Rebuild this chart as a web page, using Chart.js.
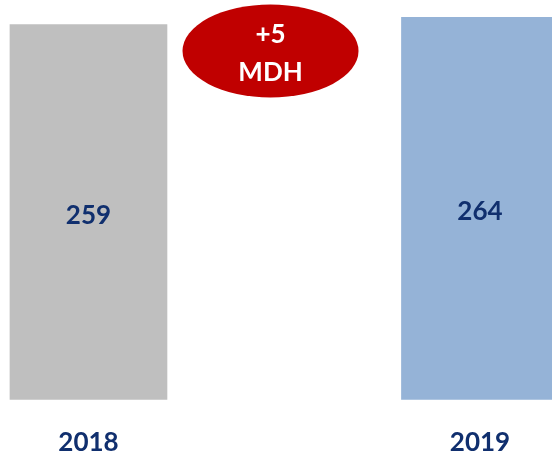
<!DOCTYPE html>
<html>
<head>
<meta charset="utf-8">
<script src="https://cdn.jsdelivr.net/npm/chart.js@4/dist/chart.umd.min.js"></script>
<style>
  html, body { margin: 0; padding: 0; background: #fff; }
  #wrap { width: 552px; height: 457px; position: relative; }
</style>
</head>
<body>
<div id="wrap"><canvas id="myChart"></canvas></div>
<script>
var categories = ['2018', '2019'];
var values = [259, 264];
var barColors = ['#BFBFBF', '#95B3D7'];
var badgeLines = ['+5', 'MDH'];

var navy = '#102F6E';
var fontFamily = 'Lato, "Liberation Sans", sans-serif';

// value labels in the middle of each bar
var barLabels = {
    id: 'barLabels',
    afterDatasetsDraw: function (chart) {
        var ctx = chart.ctx;
        var meta = chart.getDatasetMeta(0);
        ctx.save();
        ctx.font = 'bold 26px ' + fontFamily;
        ctx.fillStyle = navy;
        ctx.textAlign = 'center';
        ctx.textBaseline = 'middle';
        meta.data.forEach(function (bar, i) {
            ctx.fillText(values[i], bar.x, (bar.y + bar.base) / 2 + 3);
        });
        ctx.restore();
    }
};

// red "+5 MDH" ellipse between the bars
var badge = {
    id: 'badge',
    afterDraw: function (chart) {
        var ctx = chart.ctx;
        var x = chart.scales.x.getPixelForValue(0.465);
        var y = 51;
        ctx.save();
        ctx.beginPath();
        ctx.ellipse(x, y, 88, 46.5, 0, 0, Math.PI * 2);
        ctx.fillStyle = '#C00000';
        ctx.fill();
        ctx.font = 'bold 26px ' + fontFamily;
        ctx.fillStyle = '#fff';
        ctx.textAlign = 'center';
        ctx.textBaseline = 'middle';
        ctx.fillText(badgeLines[0], x, 35);
        ctx.fillText(badgeLines[1], x, 73);
        ctx.restore();
    }
};

var ctx = document.getElementById('myChart').getContext('2d');
var myChart = new Chart(ctx, {
    type: 'bar',
    data: {
        datasets: [{
            data: values.map(function (v, i) { return { x: i, y: v }; }),
            backgroundColor: barColors,
            borderWidth: 0,
            barThickness: 157
        }]
    },
    options: {
        responsive: true,
        maintainAspectRatio: false,
        animation: false,
        layout: { padding: { top: 0, left: 0, right: 0, bottom: -28 } },
        plugins: {
            legend: { display: false },
            tooltip: { enabled: false }
        },
        scales: {
            x: {
                type: 'linear',
                offset: false,
                min: -0.226,
                max: 1.184,
                grid: { display: false, drawTicks: false },
                border: { display: false },
                ticks: {
                    stepSize: 1,
                    includeBounds: false,
                    padding: 27,
                    color: navy,
                    font: { family: fontFamily, size: 26, weight: 'bold' },
                    callback: function (v) { return categories[v]; }
                }
            },
            y: {
                display: false,
                min: 0,
                max: 276
            }
        }
    },
    plugins: [barLabels, badge]
});
</script>
</body>
</html>
